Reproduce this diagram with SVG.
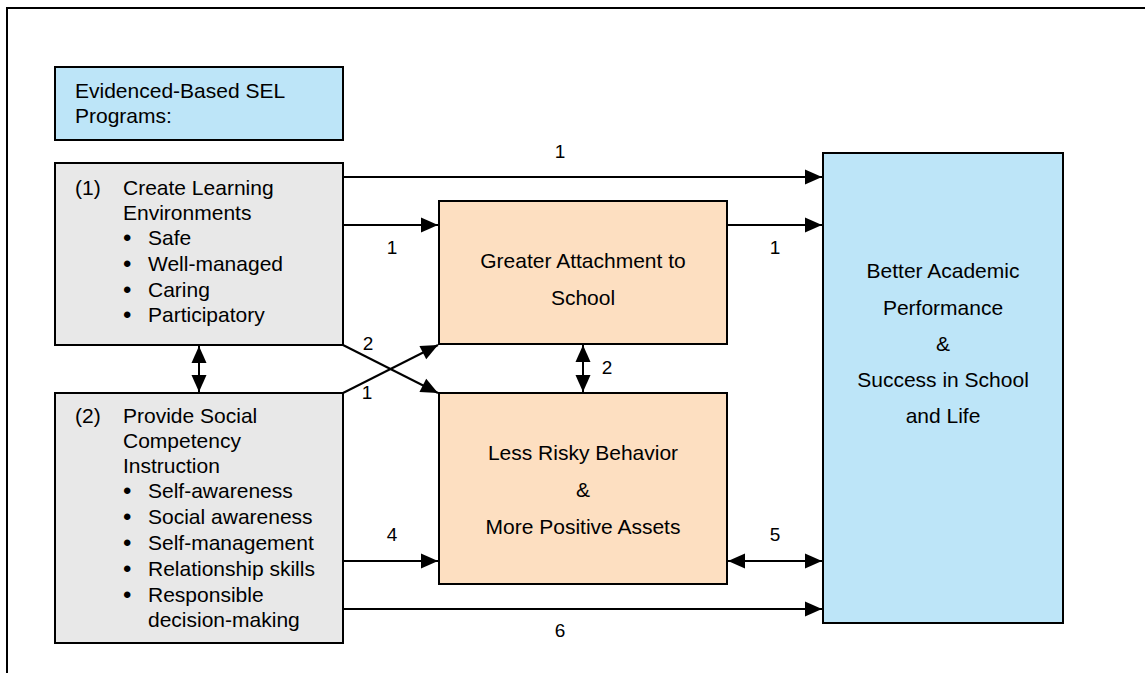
<svg xmlns="http://www.w3.org/2000/svg" width="1145" height="673" viewBox="0 0 1145 673">
<style>
text{font-family:"Liberation Sans",Arial,sans-serif;fill:#000}
.t{font-size:21px}
.c{text-anchor:middle}
.b{font-size:24px}
.n{font-size:19px;text-anchor:middle}
.box{stroke:#000;stroke-width:2}
.blue{fill:#BDE5F8}
.gray{fill:#E8E8E8}
.peach{fill:#FDDFC1}
.ln{stroke:#000;stroke-width:2;fill:none}
</style>
<defs>
<marker id="ah" markerUnits="userSpaceOnUse" markerWidth="17" markerHeight="15" refX="17" refY="7.5" orient="auto-start-reverse" overflow="visible">
<path d="M0,0 L17,7.5 L0,15 z" fill="#000"/>
</marker>
</defs>
<rect width="1145" height="673" fill="#fff"/>
<g id="frame">
<path d="M7,673 V8 H1145" class="ln"/>
</g>
<g id="header">
<rect class="box blue" x="55" y="67" width="288" height="73"/>
<text class="t" x="75" y="98">Evidenced-Based SEL</text>
<text class="t" x="75" y="123">Programs:</text>
</g>
<g id="env">
<rect class="box gray" x="55" y="163" width="288" height="182"/>
<text class="t" x="75" y="195">(1)</text>
<text class="t" x="123" y="195">Create Learning</text>
<text class="t" x="123" y="220">Environments</text>
<text class="b" x="123" y="246">•</text><text class="t" x="148" y="245">Safe</text>
<text class="b" x="123" y="272">•</text><text class="t" x="148" y="271">Well-managed</text>
<text class="b" x="123" y="298">•</text><text class="t" x="148" y="297">Caring</text>
<text class="b" x="123" y="323">•</text><text class="t" x="148" y="322">Participatory</text>
</g>
<g id="social">
<rect class="box gray" x="55" y="393" width="288" height="250"/>
<text class="t" x="75" y="423">(2)</text>
<text class="t" x="123" y="423">Provide Social</text>
<text class="t" x="123" y="448">Competency</text>
<text class="t" x="123" y="473">Instruction</text>
<text class="b" x="123" y="499">•</text><text class="t" x="148" y="498">Self-awareness</text>
<text class="b" x="123" y="525">•</text><text class="t" x="148" y="524">Social awareness</text>
<text class="b" x="123" y="551">•</text><text class="t" x="148" y="550">Self-management</text>
<text class="b" x="123" y="577">•</text><text class="t" x="148" y="576">Relationship skills</text>
<text class="b" x="123" y="603">•</text><text class="t" x="148" y="602">Responsible</text>
<text class="t" x="148" y="627">decision-making</text>
</g>
<g id="attachment">
<rect class="box peach" x="439" y="201" width="288" height="143"/>
<text class="t c" x="583" y="268">Greater Attachment to</text>
<text class="t c" x="583" y="305">School</text>
</g>
<g id="behavior">
<rect class="box peach" x="439" y="393" width="288" height="191"/>
<text class="t c" x="583" y="460">Less Risky Behavior</text>
<text class="t c" x="583" y="497">&amp;</text>
<text class="t c" x="583" y="534">More Positive Assets</text>
</g>
<g id="outcome">
<rect class="box blue" x="823" y="153" width="240" height="470"/>
<text class="t c" x="943" y="278">Better Academic</text>
<text class="t c" x="943" y="315">Performance</text>
<text class="t c" x="943" y="351">&amp;</text>
<text class="t c" x="943" y="387">Success in School</text>
<text class="t c" x="943" y="423">and Life</text>
</g>
<g id="connectors">
<line class="ln" x1="343" y1="177" x2="822" y2="177" marker-end="url(#ah)"/>
<line class="ln" x1="343" y1="225" x2="438" y2="225" marker-end="url(#ah)"/>
<line class="ln" x1="727" y1="225" x2="822" y2="225" marker-end="url(#ah)"/>
<line class="ln" x1="199" y1="346" x2="199" y2="392" marker-start="url(#ah)" marker-end="url(#ah)"/>
<line class="ln" x1="583" y1="345" x2="583" y2="392" marker-start="url(#ah)" marker-end="url(#ah)"/>
<line class="ln" x1="343" y1="345" x2="438" y2="393" marker-end="url(#ah)"/>
<line class="ln" x1="343" y1="393" x2="438" y2="345" marker-end="url(#ah)"/>
<line class="ln" x1="343" y1="561" x2="438" y2="561" marker-end="url(#ah)"/>
<line class="ln" x1="728" y1="561" x2="822" y2="561" marker-start="url(#ah)" marker-end="url(#ah)"/>
<line class="ln" x1="343" y1="609" x2="822" y2="609" marker-end="url(#ah)"/>
<text class="n" x="560" y="158">1</text>
<text class="n" x="392" y="254">1</text>
<text class="n" x="775" y="254">1</text>
<text class="n" x="368" y="350">2</text>
<text class="n" x="367" y="399">1</text>
<text class="n" x="607" y="374">2</text>
<text class="n" x="392" y="541">4</text>
<text class="n" x="775" y="541">5</text>
<text class="n" x="560" y="637">6</text>
</g>
</svg>
